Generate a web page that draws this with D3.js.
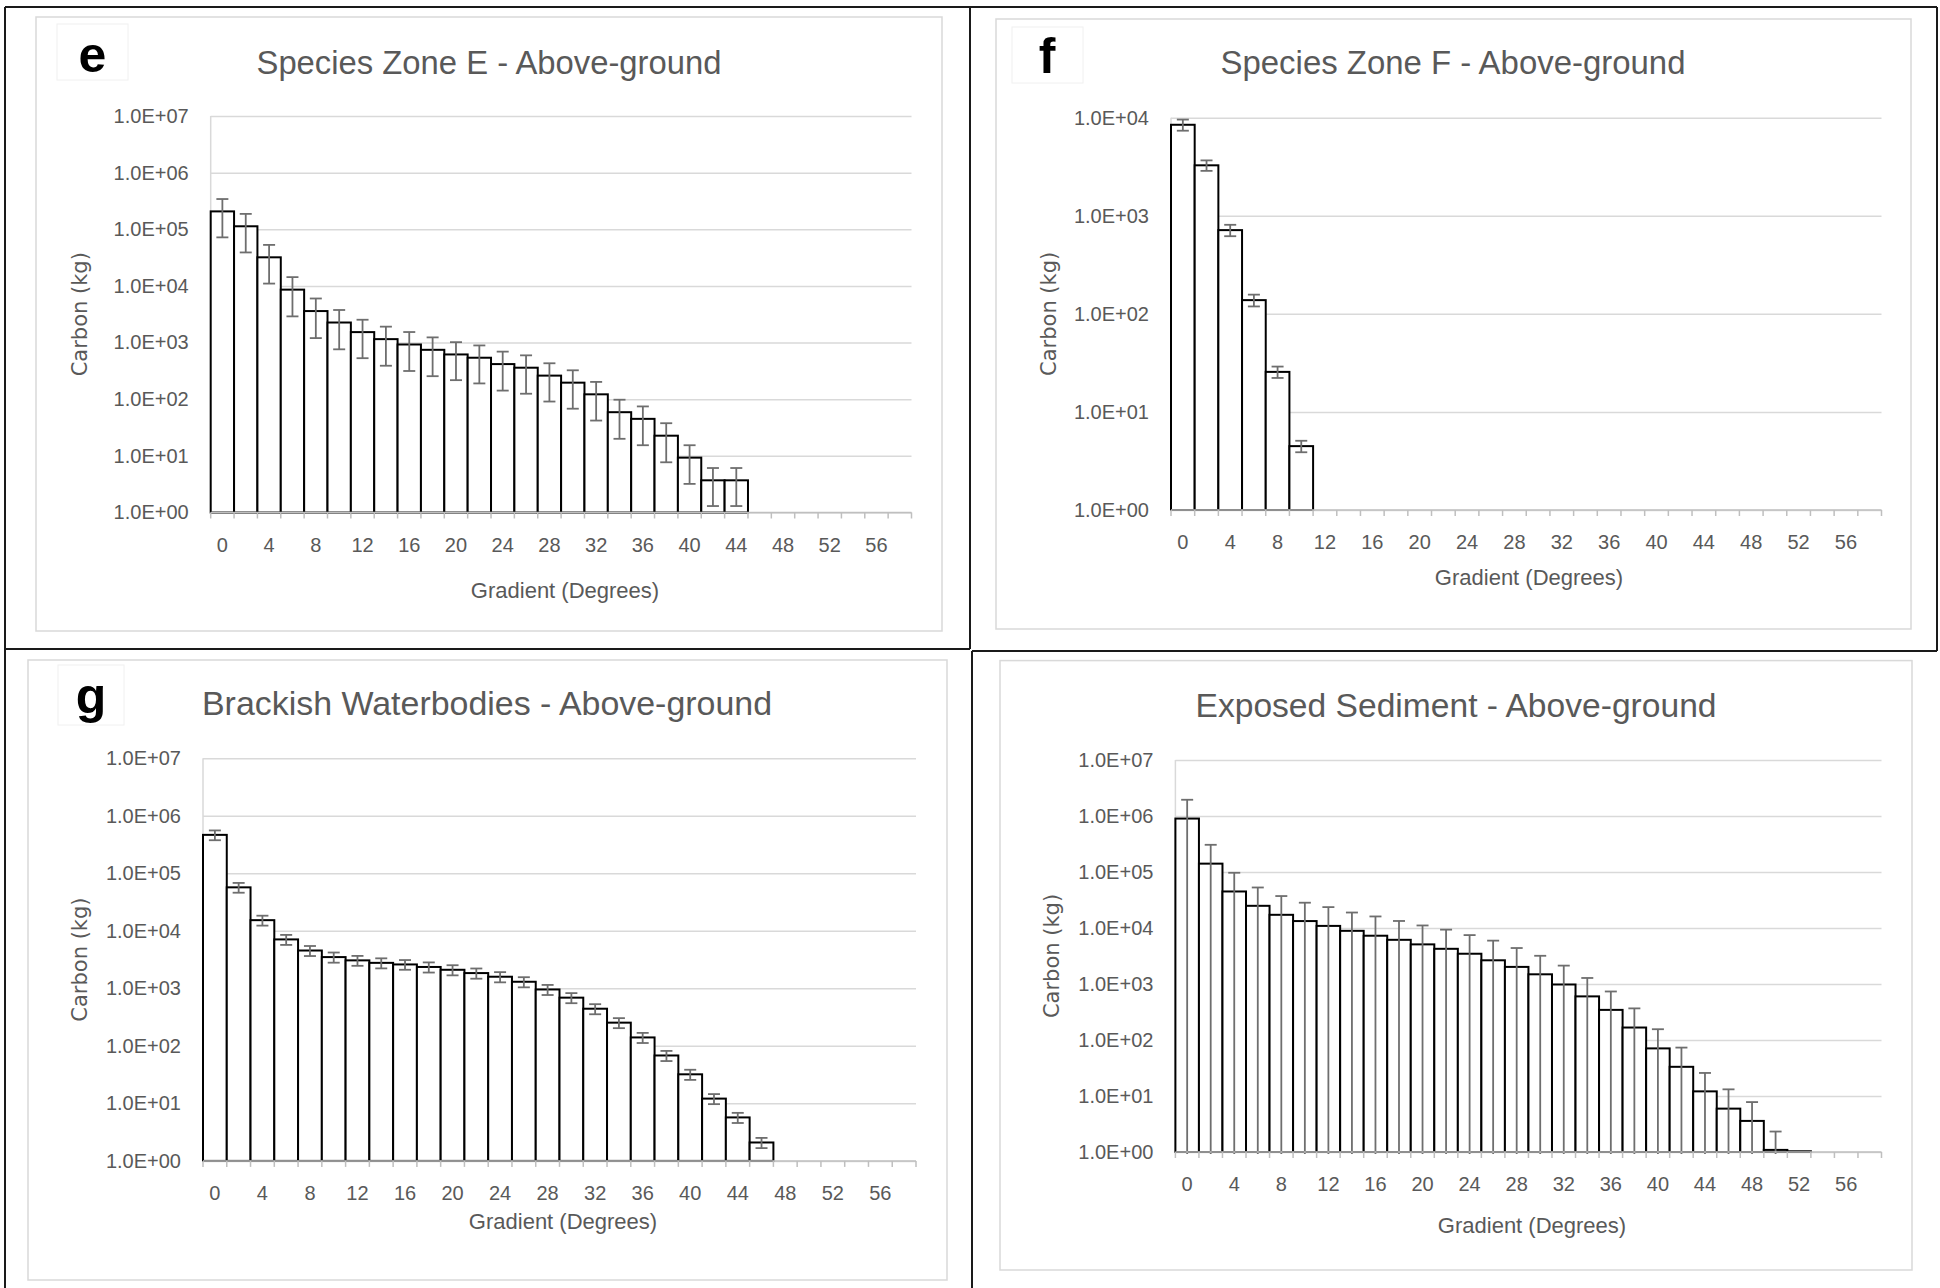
<!DOCTYPE html>
<html><head><meta charset="utf-8">
<script src="https://cdn.jsdelivr.net/npm/d3@7"></script>
<style>
body{margin:0;background:#fff}
svg{display:block}
text{font-family:"Liberation Sans",Arial,sans-serif}
</style>
</head><body>
<svg id="chart" width="1940" height="1288"></svg>
<script>
// ---- data ----
const gradients = [0,2,4,6,8,10,12,14,16,18,20,22,24,26,28,30,32,34,36,38,40,42,44,46,48,50,52,54,56,58];
const xTickLabels = [0,4,8,12,16,20,24,28,32,36,40,44,48,52,56];
const yTicks7 = [1,10,100,1e3,1e4,1e5,1e6,1e7];
const yTicks4 = [1,10,100,1e3,1e4];

const zoneE    = [2.07e5,1.13e5,3.2e4,8.6e3,3.6e3,2.26e3,1.53e3,1.15e3,925,745,617,540,417,360,261,196,122,59,45,22.7,9.3,3.7,3.7,null,null,null,null,null,null,null];
const zoneEErr = [1.35e5,0.74e5,2.1e4,5.7e3,2.4e3,1.5e3,1.0e3,760,610,490,400,350,275,235,170,128,80,39,29.6,15,6.1,2.4,2.4,null,null,null,null,null,null,null];

const zoneF    = [8.47e3,3.27e3,714,138,25.6,4.48,null,null,null,null,null,null,null,null,null,null,null,null,null,null,null,null,null,null,null,null,null,null,null,null];
const zoneFErr = [1.1e3,0.4e3,95,19,3.4,0.6,null,null,null,null,null,null,null,null,null,null,null,null,null,null,null,null,null,null,null,null,null,null,null,null];

const brackish    = [4.65e5,5.69e4,1.53e4,7.08e3,4.54e3,3.49e3,3.06e3,2.77e3,2.6e3,2.35e3,2.1e3,1.84e3,1.59e3,1.30e3,955,688,442,253,140,68,32,12.1,5.7,2.09,null,null,null,null,null,null];
const brackishErr = [0.9e5,1.1e4,3e3,1.4e3,0.9e3,0.7e3,0.6e3,0.55e3,0.5e3,0.47e3,0.42e3,0.37e3,0.32e3,0.26e3,190,137,88,50,28,13.6,6.4,2.4,1.14,0.42,null,null,null,null,null,null];

const sediment    = [9.0e5,1.41e5,4.49e4,2.49e4,1.72e4,1.33e4,1.09e4,8.9e3,7.28e3,6.15e3,5.1e3,4.25e3,3.47e3,2.65e3,2.02e3,1.49e3,980,601,345,167,70.8,33.2,12.1,5.95,3.59,1.09,1.03,null,null,null];
const sedimentErr = [1.05e6,1.65e5,5.2e4,2.8e4,2.0e4,1.5e4,1.27e4,1.0e4,8.8e3,7.2e3,6.0e3,5.1e3,4.0e3,3.3e3,2.37e3,1.7e3,1.15e3,680,390,200,85,40,13.7,7.2,4.2,1.23,0,null,null,null];

const titles = ["Species Zone E - Above-ground","Species Zone F - Above-ground","Brackish Waterbodies - Above-ground","Exposed Sediment - Above-ground"];
const panelLetters = ["e","f","g",null];
const xAxisTitle = "Gradient (Degrees)";
const yAxisTitle = "Carbon (kg)";

// ---- layout ----
const panels = [
  {values:zoneE, errs:zoneEErr, ticks:yTicks7, title:titles[0], letter:panelLetters[0],
   box:[36,17,942,631], plot:[210.7,116,911.5,512.5], titleX:489, titleY:74, titleW:465,
   labelBox:[57,24,128,80], labelX:92.5, labelY:72, xTitle:[565,598], yTitleX:80},
  {values:zoneF, errs:zoneFErr, ticks:yTicks4, title:titles[1], letter:panelLetters[1],
   box:[996,19,1911,629], plot:[1171,117.7,1881.5,510], titleX:1453, titleY:74, titleW:465,
   labelBox:[1012,27,1083,83], labelX:1047, labelY:73, xTitle:[1529,585], yTitleX:1049},
  {values:brackish, errs:brackishErr, ticks:yTicks7, title:titles[2], letter:panelLetters[2],
   box:[28,660,947,1280], plot:[203,758.2,916,1160.9], titleX:487, titleY:715, titleW:570,
   labelBox:[58,665,124,725], labelX:91, labelY:713, xTitle:[563,1229], yTitleX:80},
  {values:sediment, errs:sedimentErr, ticks:yTicks7, title:titles[3], letter:panelLetters[3],
   box:[1000,660.6,1912,1270], plot:[1175.4,760,1881.5,1152], titleX:1456, titleY:717, titleW:521,
   xTitle:[1532,1233], yTitleX:1052}
];

const svg = d3.select("#chart");
svg.append("rect").attr("width",1940).attr("height",1288).attr("fill","#fff");

const textGray = "#595959";
const fmtE = d => "1.0E+" + String(Math.round(Math.log10(d))).padStart(2,"0");

panels.forEach(p => {
  const g = svg.append("g");
  const [bx0,by0,bx1,by1] = p.box;
  g.append("rect").attr("x",bx0).attr("y",by0).attr("width",bx1-bx0).attr("height",by1-by0)
    .attr("fill","#fff").attr("stroke","#d9d9d9").attr("stroke-width",1.5);

  if (p.letter) {
    const [lx0,ly0,lx1,ly1] = p.labelBox;
    g.append("rect").attr("x",lx0).attr("y",ly0).attr("width",lx1-lx0).attr("height",ly1-ly0)
      .attr("fill","#fff").attr("stroke","#f0f0f0").attr("stroke-width",1);
    g.append("text").attr("x",p.labelX).attr("y",p.labelY).attr("text-anchor","middle")
      .attr("font-size",50).attr("font-weight","bold").attr("fill","#000").text(p.letter);
  }

  g.append("text").attr("x",p.titleX).attr("y",p.titleY).attr("text-anchor","middle")
    .attr("font-size",33).attr("fill",textGray)
    .attr("textLength",p.titleW).attr("lengthAdjust","spacingAndGlyphs").text(p.title);

  const [px0,py0,px1,py1] = p.plot;
  const x = d3.scaleBand().domain(gradients).range([px0,px1]).padding(0);
  const y = d3.scaleLog().domain([p.ticks[0], p.ticks[p.ticks.length-1]]).range([py1,py0]);

  // gridlines + y labels
  const ya = g.append("g").attr("transform",`translate(${px0},0)`)
    .call(d3.axisLeft(y).tickValues(p.ticks).tickFormat(fmtE).tickSize(-(px1-px0)).tickPadding(22));
  ya.select(".domain").remove();
  ya.selectAll(".tick line").attr("stroke","#d9d9d9").attr("stroke-width",1.5);
  ya.selectAll(".tick text").attr("fill",textGray).attr("font-size",20)
    .style("font-family",'"Liberation Sans",Arial,sans-serif');
  // y axis line
  g.append("line").attr("x1",px0).attr("x2",px0).attr("y1",py0).attr("y2",py1)
    .attr("stroke","#d9d9d9").attr("stroke-width",1.5);

  // bars
  const data = gradients.map((gr,i) => ({g:gr, v:p.values[i], e:p.errs[i]})).filter(d => d.v != null);
  g.append("g").selectAll("rect").data(data).join("rect")
    .attr("x",d => x(d.g)).attr("width",x.bandwidth())
    .attr("y",d => y(d.v)).attr("height",d => py1 - y(d.v))
    .attr("fill","#fff").attr("stroke","#000").attr("stroke-width",2);

  // error bars
  const eg = g.append("g").attr("stroke","#6e6e6e").attr("stroke-width",1.8).attr("fill","none");
  data.filter(d => d.e > 0).forEach(d => {
    const cx = x(d.g) + x.bandwidth()/2;
    const top = y(d.v + d.e);
    const lowVal = d.v - d.e;
    const bot = lowVal > 0 ? y(lowVal) : py1 + 2;
    eg.append("line").attr("x1",cx).attr("x2",cx).attr("y1",top).attr("y2",bot);
    eg.append("line").attr("x1",cx-6).attr("x2",cx+6).attr("y1",top).attr("y2",top);
    if (lowVal > 0) eg.append("line").attr("x1",cx-6).attr("x2",cx+6).attr("y1",bot).attr("y2",bot);
  });

  // x axis: line + boundary ticks
  const xa = g.append("g").attr("transform",`translate(0,${py1})`);
  xa.append("line").attr("x1",px0).attr("x2",px1).attr("stroke","#bfbfbf").attr("stroke-width",1.5);
  const bounds = gradients.map(gr => x(gr)).concat([x(gradients[gradients.length-1]) + x.bandwidth()]);
  xa.selectAll("line.tk").data(bounds).join("line").attr("class","tk")
    .attr("x1",d=>d).attr("x2",d=>d).attr("y1",0).attr("y2",6)
    .attr("stroke","#bfbfbf").attr("stroke-width",1.5);
  const xl = g.append("g").attr("transform",`translate(0,${py1})`)
    .call(d3.axisBottom(x).tickValues(xTickLabels).tickSize(0).tickPadding(25));
  xl.select(".domain").remove();
  xl.selectAll(".tick text").attr("fill",textGray).attr("font-size",20)
    .style("font-family",'"Liberation Sans",Arial,sans-serif');

  // axis titles
  g.append("text").attr("x",p.xTitle[0]).attr("y",p.xTitle[1]).attr("text-anchor","middle")
    .attr("font-size",22).attr("fill",textGray).text(xAxisTitle);
  g.append("text").attr("transform",`translate(${p.yTitleX},${(py0+py1)/2}) rotate(-90)`)
    .attr("text-anchor","middle").attr("dy","0.35em")
    .attr("font-size",21).attr("fill",textGray).style("font-family",'"DejaVu Sans",sans-serif')
    .text(yAxisTitle);
});

// black frame lines between the panels
svg.append("path")
  .attr("d","M5,7H1937 M5,7V1288 M1937,7V651 M970,7V649 M5,649H970 M972,651H1937 M972,651V1288")
  .attr("stroke","#1a1a1a").attr("stroke-width",2).attr("fill","none");
</script>
</body></html>
